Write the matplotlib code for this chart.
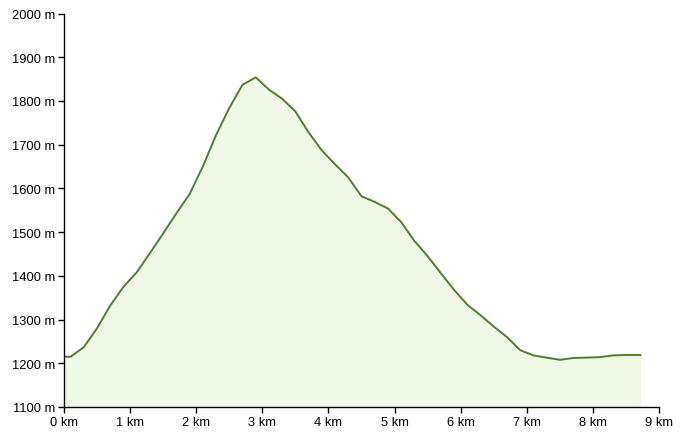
import matplotlib
matplotlib.use("Agg")
import matplotlib.pyplot as plt

plt.rcParams['font.family'] = ['Liberation Sans', 'DejaVu Sans']

distance_km = [0, 0.1, 0.3, 0.5, 0.7, 0.9, 1.1, 1.3, 1.5, 1.7, 1.9, 2.1, 2.3, 2.5, 2.7,
               2.9, 3.1, 3.3, 3.5, 3.7, 3.9, 4.1, 4.3, 4.5, 4.7, 4.9, 5.1, 5.3, 5.5,
               5.7, 5.9, 6.1, 6.3, 6.5, 6.7, 6.9, 7.1, 7.3, 7.5, 7.7, 7.9, 8.1, 8.3,
               8.5, 8.72]
elevation_m = [1215, 1215, 1237, 1280, 1332, 1375, 1408, 1452, 1497, 1543, 1587, 1650,
               1722, 1784, 1837, 1854, 1826, 1805, 1776, 1728, 1687, 1655, 1625, 1582,
               1569, 1554, 1523, 1480, 1445, 1406, 1368, 1334, 1310, 1284, 1260, 1230,
               1218, 1213, 1208, 1212, 1213, 1214, 1218, 1219, 1219]

x_ticks = list(range(0, 10))
x_labels = [f"{v} km" for v in x_ticks]
y_ticks = list(range(1100, 2001, 100))
y_labels = [f"{v} m" for v in y_ticks]

fig = plt.figure(figsize=(6.82, 4.39), dpi=100)
ax = fig.add_axes([64/682, 1 - 408/439, (659-64)/682, (408-14.5)/439])

ax.fill_between(distance_km, elevation_m, 1100, color='#eff7e5', linewidth=0)
ax.plot(distance_km, elevation_m, color='#4e7f2c', linewidth=1.4)

ax.set_xlim(0, 9)
ax.set_ylim(1100, 2000)
ax.set_xticks(x_ticks)
ax.set_xticklabels(x_labels)
ax.set_yticks(y_ticks)
ax.set_yticklabels(y_labels)

for s in ['top', 'right']:
    ax.spines[s].set_visible(False)
for s in ['left', 'bottom']:
    ax.spines[s].set_linewidth(1.0)
    ax.spines[s].set_color('black')

ax.tick_params(axis='both', direction='out', length=4.5, width=1.0, labelsize=9.3,
               pad=2, colors='black')

fig.savefig('out.png', dpi=100, facecolor='white')
